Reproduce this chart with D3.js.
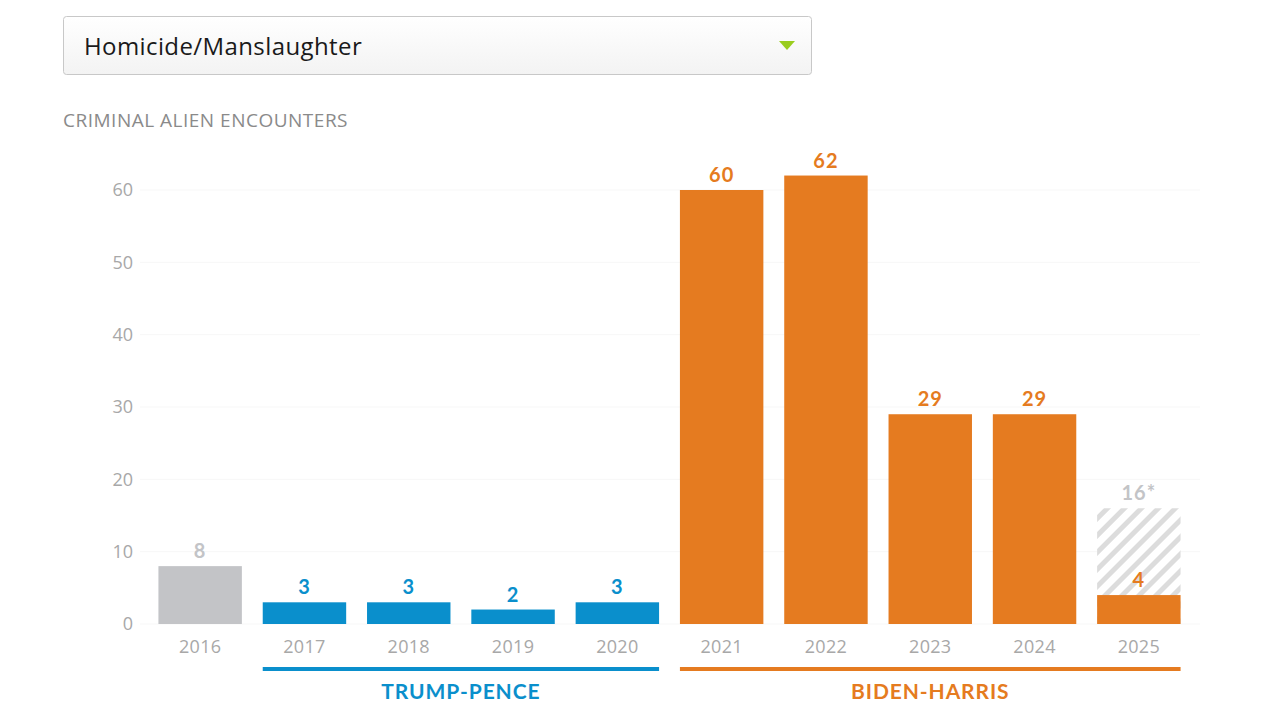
<!DOCTYPE html>
<html>
<head>
<meta charset="utf-8">
<script src="https://cdn.jsdelivr.net/npm/d3@7"></script>
<style>
  body { margin: 0; background: #fff; font-family: Lato, "Open Sans", sans-serif; }
</style>
</head>
<body>
<div id="svg"></div>
<script>
var years = ["2016", "2017", "2018", "2019", "2020", "2021", "2022", "2023", "2024", "2025"];
var values = [8, 3, 3, 2, 3, 60, 62, 29, 29, 4];
var projected = [null, null, null, null, null, null, null, null, null, 16];
var labels = ["8", "3", "3", "2", "3", "60", "62", "29", "29", "4"];
var groups = ["none", "trump", "trump", "trump", "trump", "biden", "biden", "biden", "biden", "biden"];
var eras = [
  { name: "TRUMP-PENCE", first: "2017", last: "2020", key: "trump" },
  { name: "BIDEN-HARRIS", first: "2021", last: "2025", key: "biden" }
];
var yTicks = [0, 10, 20, 30, 40, 50, 60];

var width = 1280,
    height = 720;

var color = { none: "#c3c4c7", trump: "#0a8fcc", biden: "#e57b20" };

var svg = d3.select("#svg").append("svg")
    .attr("width", width)
    .attr("height", height);

var defs = svg.append("defs");
var grad = defs.append("linearGradient")
    .attr("id", "dd")
    .attr("x1", 0).attr("x2", 0).attr("y1", 0).attr("y2", 1);
grad.append("stop").attr("offset", "0%").attr("stop-color", "#ffffff");
grad.append("stop").attr("offset", "100%").attr("stop-color", "#f3f3f3");

var hatch = defs.append("pattern")
    .attr("id", "hatch")
    .attr("patternUnits", "userSpaceOnUse")
    .attr("width", 12)
    .attr("height", 12)
    .attr("patternTransform", "rotate(45)");
hatch.append("rect").attr("width", 12).attr("height", 12).attr("fill", "#fff");
hatch.append("rect").attr("width", 5).attr("height", 12).attr("fill", "#dcdcdc");

// heading above the dropdown, scrolled mostly out of view
svg.append("text")
    .attr("x", 375)
    .attr("y", -4)
    .attr("text-anchor", "end")
    .style("font", "bold 22px Lato, sans-serif")
    .attr("fill", "#222")
    .text("Select Crime Type");

// dropdown
svg.append("rect")
    .attr("x", 63.5)
    .attr("y", 16.5)
    .attr("width", 748)
    .attr("height", 58)
    .attr("rx", 3)
    .attr("fill", "url(#dd)")
    .attr("stroke", "#c8c8c8");

svg.append("text")
    .attr("x", 84)
    .attr("y", 55)
    .attr("fill", "#1a1a1a")
    .style("font", "24px 'Open Sans', sans-serif")
    .style("letter-spacing", "0.4px")
    .text("Homicide/Manslaughter");

svg.append("path")
    .attr("d", "M779,41 L795,41 L787,50 Z")
    .attr("fill", "#9acd1e");

svg.append("text")
    .attr("x", 63)
    .attr("y", 127)
    .attr("fill", "#8a8a8a")
    .style("font", "19px 'Open Sans', sans-serif")
    .style("letter-spacing", "0.5px")
    .text("CRIMINAL ALIEN ENCOUNTERS");

var x = d3.scaleBand()
    .domain(years)
    .range([148, 1191])
    .paddingInner(0.2)
    .paddingOuter(0.1);

var y = d3.scaleLinear()
    .domain([0, 60])
    .range([624, 190]);

// gridlines
svg.append("g")
    .selectAll("line")
    .data(yTicks)
    .enter().append("line")
    .attr("x1", 140)
    .attr("x2", 1200)
    .attr("y1", d => y(d))
    .attr("y2", d => y(d))
    .attr("stroke", "#f7f7f7");

var yAxis = svg.append("g")
    .attr("transform", "translate(133,0)")
    .call(d3.axisLeft(y).tickValues(yTicks).tickSize(0).tickPadding(0));
yAxis.select(".domain").remove();
yAxis.selectAll("text")
    .attr("fill", "#a8a8a8")
    .style("font", "18px 'Open Sans', sans-serif");

// projected (hatched) bars
svg.append("g")
    .selectAll("rect")
    .data(years.filter((d, i) => projected[i] != null))
    .enter().append("rect")
    .attr("x", d => x(d))
    .attr("width", x.bandwidth())
    .attr("y", d => y(projected[years.indexOf(d)]))
    .attr("height", d => y(0) - y(projected[years.indexOf(d)]))
    .attr("fill", "url(#hatch)");

svg.append("g")
    .selectAll("text")
    .data(years.filter((d, i) => projected[i] != null))
    .enter().append("text")
    .attr("x", d => x(d) + x.bandwidth() / 2)
    .attr("y", d => y(projected[years.indexOf(d)]) - 8)
    .attr("text-anchor", "middle")
    .attr("fill", "#c3c4c7")
    .style("font", "bold 20px Lato, sans-serif")
    .style("letter-spacing", "1px")
    .text(d => projected[years.indexOf(d)] + "*");

// bars
svg.append("g")
    .selectAll("rect")
    .data(years)
    .enter().append("rect")
    .attr("x", d => x(d))
    .attr("width", x.bandwidth())
    .attr("y", (d, i) => y(values[i]))
    .attr("height", (d, i) => y(0) - y(values[i]))
    .attr("fill", (d, i) => color[groups[i]]);

svg.append("g")
    .selectAll("text")
    .data(years)
    .enter().append("text")
    .attr("x", d => x(d) + x.bandwidth() / 2)
    .attr("y", (d, i) => y(values[i]) - 8)
    .attr("text-anchor", "middle")
    .attr("fill", (d, i) => color[groups[i]])
    .style("font", "bold 20px Lato, sans-serif")
    .style("letter-spacing", "1px")
    .text((d, i) => labels[i]);

// x axis
var xAxis = svg.append("g")
    .attr("transform", "translate(0,637)")
    .call(d3.axisBottom(x).tickSize(0).tickPadding(0));
xAxis.select(".domain").remove();
xAxis.selectAll("text")
    .attr("dy", "0.9em")
    .attr("fill", "#a8a8a8")
    .style("font", "18px 'Open Sans', sans-serif")
    .style("letter-spacing", "0.3px");

// era brackets
var era = svg.append("g")
    .selectAll("g")
    .data(eras)
    .enter().append("g");

era.append("rect")
    .attr("x", d => x(d.first))
    .attr("width", d => x(d.last) + x.bandwidth() - x(d.first))
    .attr("y", 667)
    .attr("height", 4)
    .attr("fill", d => color[d.key]);

era.append("text")
    .attr("x", d => (x(d.first) + x(d.last) + x.bandwidth()) / 2)
    .attr("y", 699)
    .attr("text-anchor", "middle")
    .attr("fill", d => color[d.key])
    .style("font", "bold 21px Lato, sans-serif")
    .style("letter-spacing", "0.9px")
    .text(d => d.name);
</script>
</body>
</html>
